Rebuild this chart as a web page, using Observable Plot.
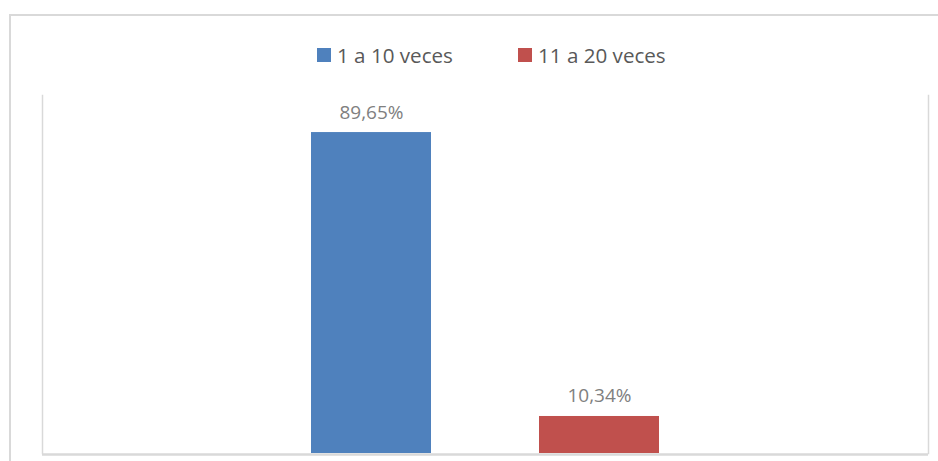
<!DOCTYPE html>
<html>
<head>
<meta charset="utf-8">
<script src="https://cdn.jsdelivr.net/npm/d3@7"></script>
<script src="https://cdn.jsdelivr.net/npm/@observablehq/plot@0.6"></script>
<style>
  html, body { margin: 0; padding: 0; background: #fff; overflow: hidden; }
  #wrap { position: relative; width: 938px; height: 461px; overflow: hidden; background: #fff; font-family: "Open Sans", sans-serif; }
  .bline { position: absolute; background: #d9d9d9; }
  #legend { position: absolute; top: 41px; left: 0; width: 938px; height: 28px; }
  .item { position: absolute; top: 0; display: flex; align-items: center; color: #595959; font-size: 20.6px; line-height: 28px; white-space: nowrap; }
  .sw { width: 14px; height: 14px; margin-right: 6px; }
  #chart { position: absolute; left: 0; top: 0; width: 938px; height: 461px; }
</style>
</head>
<body>
<div id="wrap">
  <div class="bline" style="left:9px;top:14px;width:929px;height:2px"></div>
  <div class="bline" style="left:9px;top:14px;width:2px;height:447px"></div>
  <div id="legend"></div>
  <div id="chart"></div>
</div>
<script>
const series = ["1 a 10 veces", "11 a 20 veces"];
const values = [89.65, 10.34];
const labels = ["89,65%", "10,34%"];
const colors = ["#4F81BD", "#C0504D"];

const data = series.map((s, i) => ({series: s, value: values[i], label: labels[i]}));

// legend
const legend = document.getElementById("legend");
const legendX = [317, 518];
series.forEach((s, i) => {
  const it = document.createElement("div");
  it.className = "item";
  it.style.left = legendX[i] + "px";
  it.innerHTML = `<span class="sw" style="background:${colors[i]}"></span><span>${s}</span>`;
  legend.appendChild(it);
});

const chart = Plot.plot({
  width: 938,
  height: 461,
  marginTop: 95,
  marginBottom: 8,
  marginLeft: 42,
  marginRight: 10,
  style: {fontFamily: "Open Sans, sans-serif", background: "transparent", overflow: "hidden"},
  x: {type: "band", domain: series, range: [310, 660], paddingInner: 0.4716, paddingOuter: 0, axis: null},
  y: {domain: [0, 100], axis: null},
  color: {domain: series, range: colors},
  marks: [
    Plot.frame({anchor: "left", stroke: "#d9d9d9", strokeWidth: 1.5}),
    Plot.frame({anchor: "right", stroke: "#d9d9d9", strokeWidth: 1.5}),
    Plot.barY(data, {x: "series", y: "value", fill: "series"}),
    Plot.ruleY([0], {stroke: "#d9d9d9", strokeWidth: 2.5, dy: 1}),
    Plot.text(data, {x: "series", y: "value", text: "label", lineAnchor: "bottom", dy: -14, fill: "#808080", fontSize: 19})
  ]
});
document.getElementById("chart").appendChild(chart);
</script>
</body>
</html>
